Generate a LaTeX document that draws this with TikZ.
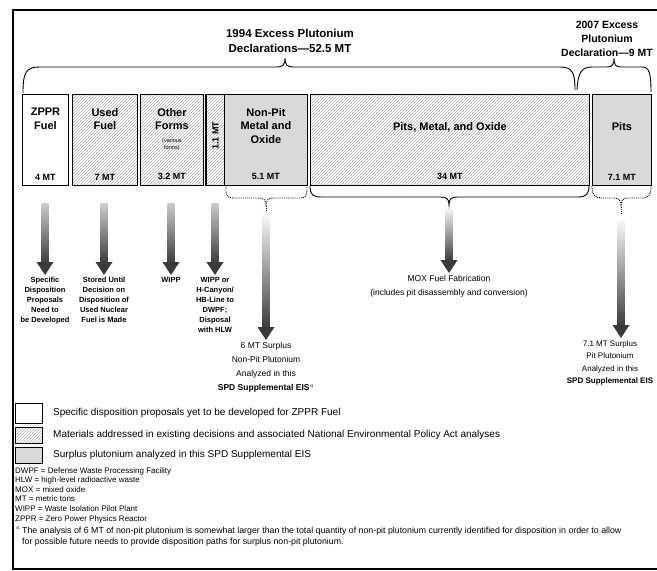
\documentclass[tikz,border=0pt]{standalone}
\usepackage{fontspec}
\setmainfont{Liberation Sans}
\usetikzlibrary{patterns,calc}
\definecolor{arrdark}{HTML}{3A3A3A}
\definecolor{surplusgray}{HTML}{D9D9D9}
\newcommand{\gradarrow}[3][gray!40]{%
  \shade[top color=#1, bottom color=arrdark] ($(#2)+(-3.5,0)$) rectangle ($(#3)+(3.5,-13)$);
  \fill[arrdark] ($(#3)+(-8.5,-15)$) -- ($(#3)+(8.5,-15)$) -- ($(#3)+(0,-2)$) -- cycle;
}
\tikzset{
  box/.style={draw=black, line width=0.9pt, inner sep=0pt, anchor=north west},
  hatchfill/.style={pattern=north east lines, pattern color=gray!60},
  surplusfill/.style={fill=surplusgray},
  boxtitle/.style={font=\bfseries\fontsize{11}{13.5}\selectfont, align=center, inner sep=0pt, anchor=north},
  mtlabel/.style={font=\bfseries\fontsize{9}{11}\selectfont, inner sep=0pt},
  decltitle/.style={font=\bfseries\fontsize{11.5}{14.5}\selectfont, align=center, inner sep=0pt},
  bracesolid/.style={draw=black, line width=0.9pt},
  bracedot/.style={draw=black, line width=0.9pt, densely dotted},
  smalllbl/.style={font=\bfseries\fontsize{7.5}{10}\selectfont, align=center, inner sep=0pt, anchor=north},
  biglbl/.style={font=\fontsize{8.5}{14}\selectfont, align=center, inner sep=0pt, anchor=north},
  legendbox/.style={draw=black, line width=0.9pt, inner sep=0pt, anchor=north west},
  legendtext/.style={font=\fontsize{10}{11}\selectfont, anchor=west, inner sep=0pt},
  abbr/.style={font=\fontsize{8}{9.6}\selectfont, align=left, anchor=north west, inner sep=0pt},
}
\begin{document}
\begin{tikzpicture}[x=1pt, y=-1pt]
\useasboundingbox (0,0) rectangle (657,571);
\clip (0,0) rectangle (657,571);
\fill[white] (0,0) rectangle (657,571);
% frame
\draw[line width=1.3pt] (13,10) rectangle (690,569);

% declaration titles
\node[decltitle] (t1994) at (290,41) {1994 Excess Plutonium\\Declarations---52.5 MT};
\node[decltitle, font=\bfseries\fontsize{10.5}{14}\selectfont] (t2007) at (607,39) {2007 Excess\\Plutonium\\Declaration---9 MT};

% top braces
\draw[bracesolid] (23,93) .. controls (23,72) and (26,67) .. (40,67) -- (276,67)
  .. controls (283,67) and (285,65) .. (285,58) .. controls (285,65) and (287,67) .. (294,67)
  -- (560,67) .. controls (572,67) and (575,72) .. (575,90);
\draw[bracesolid] (577,90) .. controls (578,72) and (582,67) .. (592,67) -- (607,67)
  .. controls (612,67) and (614,65) .. (614,58) .. controls (614,65) and (616,67) .. (621,67)
  -- (642,67) .. controls (649,67) and (651,72) .. (651,92);

% boxes
\node[box, fill=white, minimum width=46, minimum height=91] (zppr) at (22,94) {};
\node[box, hatchfill, minimum width=65, minimum height=91] (used) at (72,94) {};
\node[box, hatchfill, minimum width=63, minimum height=91] (other) at (140,94) {};
\node[box, hatchfill, minimum width=18, minimum height=91] (onemt) at (206,94) {};
\node[box, surplusfill, minimum width=83, minimum height=91] (nonpit) at (224,94) {};
\node[box, hatchfill, minimum width=279, minimum height=91] (pitsmo) at (310,94) {};
\node[box, surplusfill, minimum width=59, minimum height=91] (pits) at (592,94) {};
\draw[line width=2pt] (onemt.north west) -- (onemt.south west);

% box texts
\node[boxtitle] (zpprT) at ($(zppr.north)+(0,14)$) {ZPPR\\Fuel};
\node[boxtitle] (usedT) at ($(used.north)+(0,14)$) {Used\\Fuel};
\node[boxtitle] (otherT) at ($(other.north)+(0,14)$) {Other\\Forms};
\node[font=\fontsize{5.5}{7}\selectfont, align=center, inner sep=0pt] (otherS) at ($(other.north)+(0,51)$) {(various\\forms)};
\node[boxtitle] (nonpitT) at ($(nonpit.north)+(0,14)$) {Non-Pit\\Metal and\\Oxide};
\node[boxtitle, anchor=center] (pitsmoT) at ($(pitsmo.north)+(0,33)$) {Pits, Metal, and Oxide};
\node[boxtitle, anchor=center] (pitsT) at ($(pits.north)+(0,33)$) {Pits};

\node[mtlabel] (zpprM) at ($(zppr.south)+(0,-9)$) {4 MT};
\node[mtlabel] (usedM) at ($(used.south)+(0,-9)$) {7 MT};
\node[mtlabel] (otherM) at ($(other.south)+(0,-9)$) {3.2 MT};
\node[mtlabel, rotate=90] (onemtM) at ($(onemt.center)+(0,-4)$) {1.1 MT};
\node[mtlabel] (nonpitM) at ($(nonpit.south)+(0,-9)$) {5.1 MT};
\node[mtlabel] (pitsmoM) at ($(pitsmo.south)+(0,-9)$) {34 MT};
\node[mtlabel] (pitsM) at ($(pits.south)+(0,-9)$) {7.1 MT};

% lower braces
\draw[bracedot] (226,186) -- (226,191) .. controls (226,196) and (228,198) .. (234,198) -- (258,198)
  .. controls (264,198) and (266,200) .. (266,206) .. controls (266,200) and (268,198) .. (274,198)
  -- (300,198) .. controls (305,198) and (307,196) .. (307,190) -- (307,186);
\draw[bracesolid] (310,186) .. controls (310,195) and (313,197) .. (322,197) -- (440,197)
  .. controls (447,197) and (449,199) .. (449,205) .. controls (449,199) and (451,197) .. (458,197)
  -- (578,197) .. controls (586,197) and (589,194) .. (589,186);
\draw[bracedot] (592,186) .. controls (592,195) and (595,198) .. (602,198) -- (614,198)
  .. controls (619,198) and (621,200) .. (621,207) .. controls (621,200) and (623,198) .. (628,198)
  -- (642,198) .. controls (649,198) and (651,195) .. (651,186);
\draw[bracedot] (266,206) -- (266,211);
\draw[bracedot] (621,207) -- (621,213);

% arrow starts
\coordinate (a1s) at (45,203);
\coordinate (a2s) at (104,203);
\coordinate (a3s) at (171,203);
\coordinate (a4s) at (215,203);
\coordinate (a5s) at (266,214);
\coordinate (a6s) at (449,209);
\coordinate (a7s) at (621,220);

\node[smalllbl] (l1) at (45,277) {Specific\\Disposition\\Proposals\\Need to\\be Developed};
\node[smalllbl] (l2) at (104,277) {Stored Until\\Decision on\\Disposition of\\Used Nuclear\\Fuel is Made};
\node[smalllbl] (l3) at (171,277) {WIPP};
\node[smalllbl] (l4) at (215,277) {WIPP or\\H-Canyon/\\HB-Line to\\DWPF;\\Disposal\\with HLW};
\node[biglbl] (l5) at (266,342) {6 MT Surplus\\Non-Pit Plutonium\\Analyzed in this\\\textbf{SPD Supplemental EIS}$^{a}$};
\node[biglbl] (l6) at (449,275) {MOX Fuel Fabrication\\(includes pit disassembly and conversion)};
\node[biglbl, font=\fontsize{8}{12.5}\selectfont] (l7) at (610,340) {7.1 MT Surplus\\Pit Plutonium\\Analyzed in this\\\textbf{SPD Supplemental EIS}};
\coordinate (a7t) at (a7s |- l7.north);

\gradarrow{a1s}{l1.north}
\gradarrow{a2s}{l2.north}
\gradarrow{a3s}{l3.north}
\gradarrow{a4s}{l4.north}
\gradarrow[gray!5]{a5s}{l5.north}
\gradarrow[gray!10]{a6s}{l6.north}
\gradarrow[gray!5]{a7s}{a7t}

% legend
\node[legendbox, fill=white, minimum width=27, minimum height=20] (lg1) at (15,403) {};
\node[legendbox, hatchfill, minimum width=27, minimum height=16] (lg2) at (15,427) {};
\node[legendbox, surplusfill, minimum width=27, minimum height=16] (lg3) at (15,447) {};
\node[legendtext] (lt1) at (53,413) {Specific disposition proposals yet to be developed for ZPPR Fuel};
\node[legendtext] (lt2) at (53,435) {Materials addressed in existing decisions and associated National Environmental Policy Act analyses};
\node[legendtext] (lt3) at (53,455) {Surplus plutonium analyzed in this SPD Supplemental EIS};

\node[abbr] (abbrs) at (15,467) {DWPF = Defense Waste Processing Facility\\HLW = high-level radioactive waste\\MOX = mixed oxide\\MT = metric tons\\WIPP = Waste Isolation Pilot Plant\\ZPPR = Zero Power Physics Reactor};
\node[abbr, font=\fontsize{8.8}{10.5}\selectfont] (fnote) at (16,527) {$^{a}$\,The analysis of 6 MT of non-pit plutonium is somewhat larger than the total quantity of non-pit plutonium currently identified for disposition in order to allow\\
\hspace*{6pt}for possible future needs to provide disposition paths for surplus non-pit plutonium.};
\end{tikzpicture}
\end{document}
